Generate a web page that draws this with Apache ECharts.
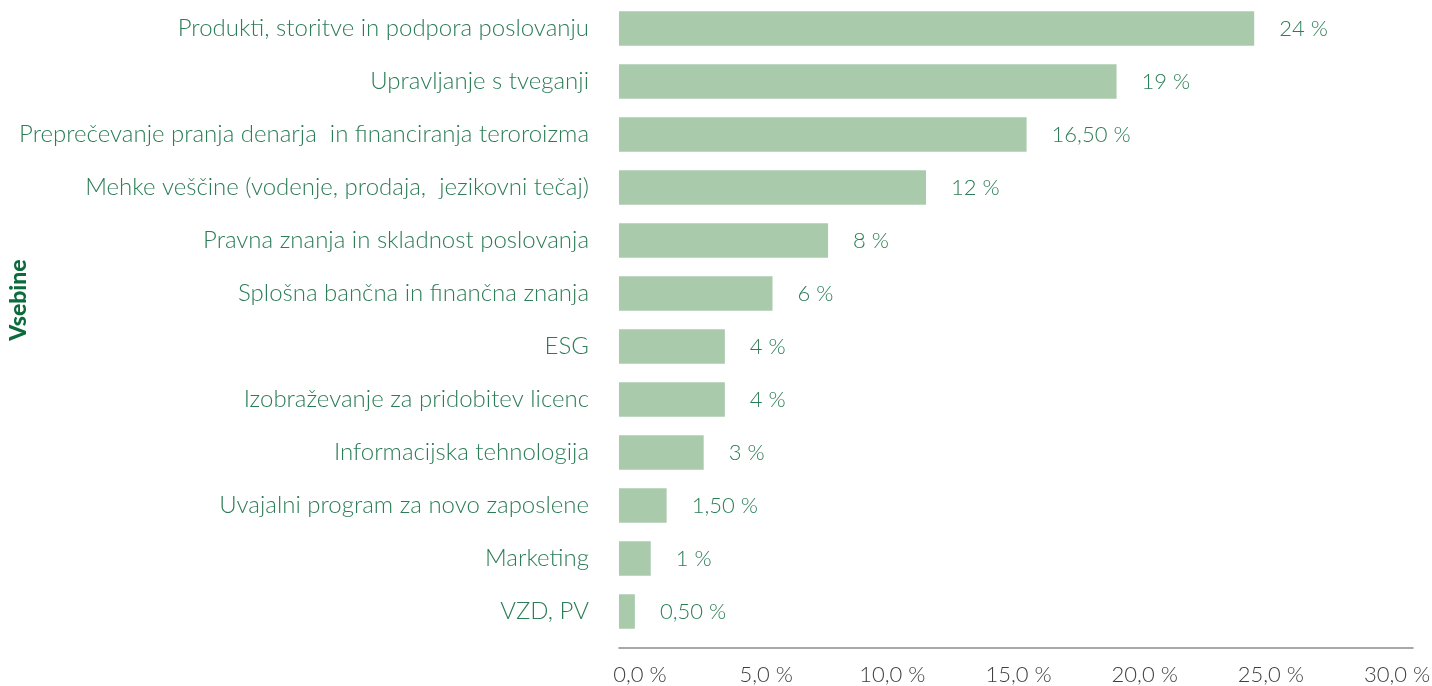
<!DOCTYPE html>
<html>
<head>
<meta charset="utf-8">
<script src="https://cdn.jsdelivr.net/npm/echarts@6/dist/echarts.min.js"></script>
<style>
html,body{margin:0;padding:0;background:#fff;}
#c{width:1432px;height:686px;}
</style>
</head>
<body>
<div id="c"></div>
<script>
// Categories (top to bottom as shown)
const categories = [
  "Produkti, storitve in podpora poslovanju",
  "Upravljanje s tveganji",
  "Preprečevanje pranja denarja  in financiranja teroroizma",
  "Mehke veščine (vodenje, prodaja,  jezikovni tečaj)",
  "Pravna znanja in skladnost poslovanja",
  "Splošna bančna in finančna znanja",
  "ESG",
  "Izobraževanje za pridobitev licenc",
  "Informacijska tehnologija",
  "Uvajalni program za novo zaposlene",
  "Marketing",
  "VZD, PV"
];
// Bar lengths (percent)
const values = [24.0, 18.8, 15.4, 11.6, 7.9, 5.8, 4.0, 4.0, 3.2, 1.8, 1.2, 0.6];
// Printed data labels
const valueLabels = ["24 %", "19 %", "16,50 %", "12 %", "8 %", "6 %", "4 %", "4 %", "3 %", "1,50 %", "1 %", "0,50 %"];
// Axis ticks
const axisMin = 0, axisMax = 30, axisStep = 5;
const axisTitle = "Vsebine";

const FONT = "Lato, 'Open Sans', sans-serif";
const GREEN_TEXT = "#2b7d55";

const chart = echarts.init(document.getElementById('c'), null, {renderer: 'canvas'});
chart.setOption({
  animation: false,
  backgroundColor: '#fff',
  textStyle: {fontFamily: FONT},
  grid: [
    {left: 619, right: 19, top: 2, height: 636, containLabel: false, outerBoundsMode: 'none'},
    {left: 640, right: 35, top: 2, height: 636, containLabel: false, outerBoundsMode: 'none'}
  ],
  graphic: [{
    type: 'text',
    x: 19, y: 300,
    rotation: Math.PI / 2,
    style: {
      text: axisTitle,
      fill: '#0b6b3c',
      font: '900 23px ' + FONT,
      align: 'center',
      verticalAlign: 'middle'
    }
  }],
  xAxis: [
    {
      type: 'value', gridIndex: 0, min: axisMin, max: axisMax, interval: axisStep,
      offset: 10,
      axisLine: {show: true, lineStyle: {color: '#8c8c8c', width: 1.5}},
      axisTick: {show: false},
      splitLine: {show: false},
      axisLabel: {show: false}
    },
    {
      type: 'value', gridIndex: 1, min: axisMin, max: axisMax, interval: axisStep,
      offset: 10,
      axisLine: {show: false},
      axisTick: {show: false},
      splitLine: {show: false},
      axisLabel: {
        show: true, margin: 16, fontSize: 22, fontWeight: 300, color: '#404040', fontFamily: FONT,
        formatter: v => v.toFixed(1).replace('.', ',') + ' %'
      }
    }
  ],
  yAxis: [
    {
      type: 'category', gridIndex: 0, data: categories, inverse: true,
      axisLine: {show: false}, axisTick: {show: false}, splitLine: {show: false},
      axisLabel: {margin: 30, fontSize: 24, fontWeight: 300, color: GREEN_TEXT, fontFamily: FONT}
    },
    {type: 'value', gridIndex: 1, show: false}
  ],
  series: [{
    type: 'bar',
    xAxisIndex: 0, yAxisIndex: 0,
    data: values,
    barCategoryGap: '35%',
    itemStyle: {color: '#a9cbac'},
    label: {
      show: true, position: 'right', distance: 25,
      fontSize: 22, fontWeight: 300, color: GREEN_TEXT, fontFamily: FONT,
      formatter: p => valueLabels[p.dataIndex]
    }
  }]
});
</script>
</body>
</html>
